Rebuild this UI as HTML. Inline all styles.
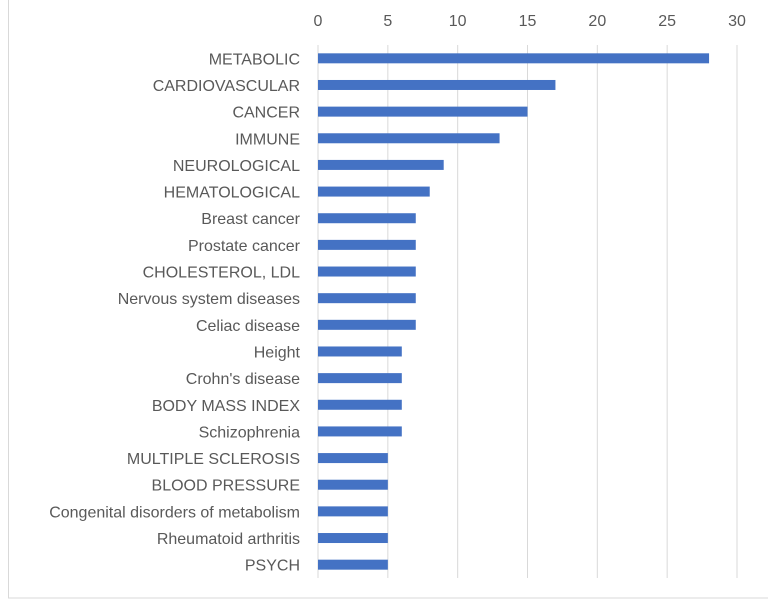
<!DOCTYPE html>
<html><head><meta charset="utf-8"><style>
body{margin:0;background:#fff;width:768px;height:600px;overflow:hidden}
svg text{font-family:"Liberation Sans",sans-serif;fill:#595959;font-size:16px}
</style></head><body>
<svg id="c" width="768" height="600">
<rect x="8.5" y="-2" width="770" height="600" fill="#fff" stroke="#d9d9d9"/>
</svg>
<script>
const categories=["METABOLIC","CARDIOVASCULAR","CANCER","IMMUNE","NEUROLOGICAL","HEMATOLOGICAL","Breast cancer","Prostate cancer","CHOLESTEROL, LDL","Nervous system diseases","Celiac disease","Height","Crohn's disease","BODY MASS INDEX","Schizophrenia","MULTIPLE SCLEROSIS","BLOOD PRESSURE","Congenital disorders of metabolism","Rheumatoid arthritis","PSYCH"];
const values=[28,17,15,13,9,8,7,7,7,7,7,6,6,6,6,5,5,5,5,5];
const ticks=[0,5,10,15,20,25,30];
const svg=document.getElementById('c');const NS='http://www.w3.org/2000/svg';
const x0=318,x1=737,xmax=30,yTop=45,yBot=578;
const xs=v=>x0+(x1-x0)*v/xmax;
const step=(yBot-yTop)/categories.length;
const yc=i=>yTop+step*(i+0.5);
function mk(t,a){const e=document.createElementNS(NS,t);for(const k in a)e.setAttribute(k,a[k]);svg.appendChild(e);return e;}
ticks.forEach(t=>{
const g=mk('line',{x1:xs(t),x2:xs(t),y1:yTop,y2:yBot,stroke:'#d9d9d9'});


const l=mk('text',{x:xs(t),y:26,'text-anchor':'middle'});l.textContent=t;


});
categories.forEach((c,i)=>{
const b=mk('rect',{x:xs(0),y:yc(i)-5,width:xs(values[i])-xs(0),height:10,fill:'#4472c4'});


const t=mk('text',{x:300,y:yc(i)+6,'text-anchor':'end'});t.textContent=c;


});
</script>
</body></html>
